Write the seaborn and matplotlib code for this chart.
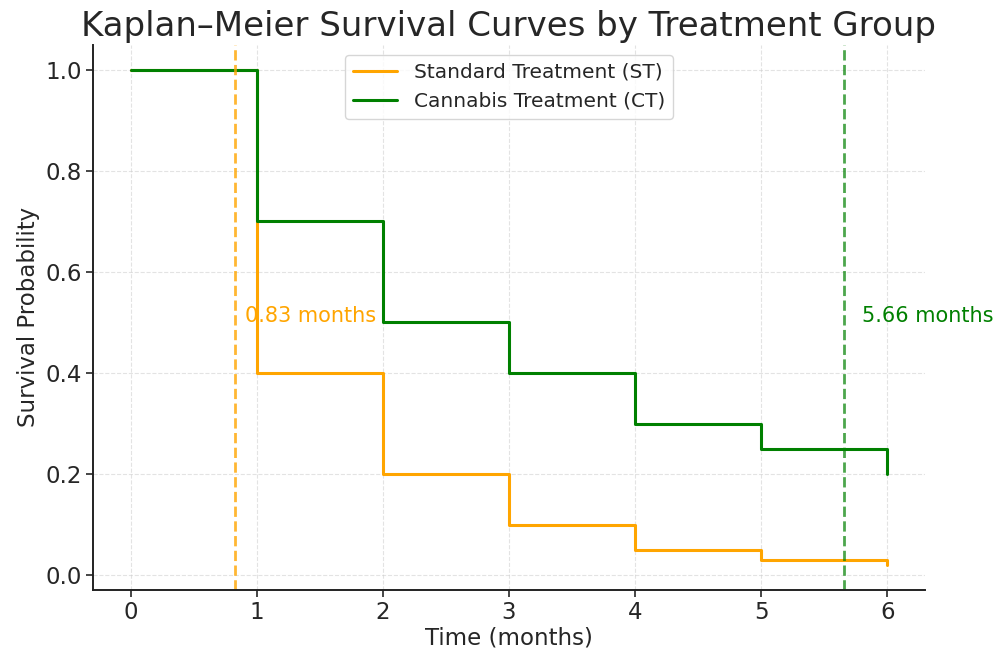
import pandas as pd
import seaborn as sns
import matplotlib.pyplot as plt

# Kaplan-Meier step values
time = [0, 1, 2, 3, 4, 5, 6]
st_surv = [1.0, 0.4, 0.2, 0.1, 0.05, 0.03, 0.02]
ct_surv = [1.0, 0.7, 0.5, 0.4, 0.3, 0.25, 0.2]
groups = ["Standard Treatment (ST)", "Cannabis Treatment (CT)"]
medians = [0.83, 5.66]
colors = ["orange", "green"]

df = pd.concat([
    pd.DataFrame({"time": time, "surv": st_surv, "group": groups[0]}),
    pd.DataFrame({"time": time, "surv": ct_surv, "group": groups[1]}),
])

sns.set_style("whitegrid", {"grid.linestyle": "--", "axes.edgecolor": "#222222",
                            "xtick.bottom": True, "ytick.left": True})

fig, ax = plt.subplots(figsize=(9.98, 6.49), dpi=100)
sns.lineplot(data=df, x="time", y="surv", hue="group", palette=colors,
             drawstyle="steps-post", linewidth=2.2, ax=ax)

ax.axvline(medians[0], color="orange", linestyle="--", linewidth=2, alpha=0.8)
ax.axvline(medians[1], color="green", linestyle="--", linewidth=2, alpha=0.7)
ax.text(medians[0] + 0.08, 0.5, f"{medians[0]} months", color="orange", fontsize=15)
ax.text(medians[1] + 0.14, 0.5, f"{medians[1]} months", color="green", fontsize=15)

ax.set_title("Kaplan–Meier Survival Curves by Treatment Group", fontsize=24.5)
ax.set_xlabel("Time (months)", fontsize=16.5, labelpad=2)
ax.set_ylabel("Survival Probability", fontsize=16.5)
ax.tick_params(labelsize=16.5, width=1.2, length=5, pad=3)
ax.legend(loc="upper center", fontsize=14.5, handlelength=2.2)
ax.grid(alpha=0.55)
for s in ax.spines.values():
    s.set_linewidth(1.4)
sns.despine()
fig.subplots_adjust(left=0.093, right=0.927, top=0.931, bottom=0.091)
plt.savefig("out.png")
